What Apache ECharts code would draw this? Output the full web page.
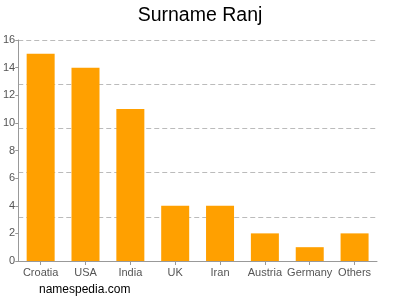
<!DOCTYPE html>
<html><head><meta charset="utf-8">
<script src="https://cdn.jsdelivr.net/npm/echarts@6/dist/echarts.min.js"></script>
<style>html,body{margin:0;padding:0;background:#fff}#c{width:400px;height:300px}</style>
</head><body><div id="c"></div>
<script>
const categories = ["Croatia","USA","India","UK","Iran","Austria","Germany","Others"];
const counts = [15,14,11,4,4,2,1,2];
const yTicks = [0,2,4,6,8,10,12,14,16];
const chart = echarts.init(document.getElementById('c'), null, {renderer:'canvas'});
chart.setOption({
  animation:false,
  backgroundColor:'#ffffff',
  title:[{text:'Surname Ranj', left:'center', top:1, textStyle:{fontFamily:'Liberation Sans, Arial', fontSize:19.5, fontWeight:'normal', color:'#000'}},
         {text:'namespedia.com', left:39, top:284, padding:0, textStyle:{fontFamily:'Liberation Sans, Arial', fontSize:12, fontWeight:'normal', color:'#000'}}],
  grid:{left:17, right:23, top:40, bottom:39, containLabel:false},
  xAxis:{type:'category', data:categories,
    axisLine:{lineStyle:{color:'#999'}},
    axisTick:{show:true, alignWithLabel:true, length:4, lineStyle:{color:'#999'}},
    axisLabel:{color:'#555', fontFamily:'Liberation Sans, Arial', fontSize:11, margin:6, interval:0}},
  yAxis:[{type:'value', min:0, max:16, interval:2,
    axisLine:{show:true, lineStyle:{color:'#999'}},
    axisTick:{show:true, length:3, lineStyle:{color:'#999'}},
    splitLine:{show:false},
    axisLabel:{color:'#555', fontFamily:'Liberation Sans, Arial', fontSize:11, margin:3,
      formatter:v=>yTicks.includes(v)?String(v):''}},
    {type:'value', min:0, max:16, interval:3.2, position:'left',
    axisLine:{show:false}, axisTick:{show:false}, axisLabel:{show:false},
    splitLine:{show:true, lineStyle:{color:'#bbb', type:[5,3], width:1}}}],
  series:[{type:'bar', data:counts, barWidth:28, itemStyle:{color:'#FFA000'}, yAxisIndex:0}]
});
</script></body></html>
